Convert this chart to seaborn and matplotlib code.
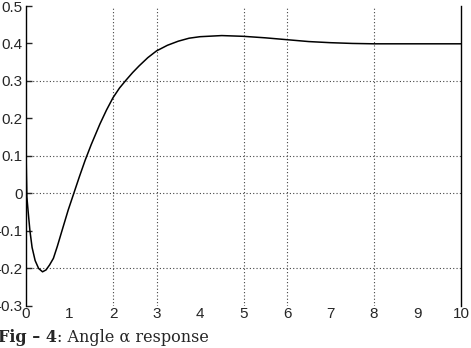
import numpy as np
import pandas as pd
import matplotlib
matplotlib.use("Agg")
import matplotlib.pyplot as plt
import seaborn as sns

# data
time_s = [0, 0.01, 0.02, 0.05, 0.09, 0.14, 0.21, 0.29, 0.38, 0.46, 0.54, 0.63,
          0.72, 0.82, 0.97, 1.1, 1.23, 1.36, 1.5, 1.7, 1.85, 2.0, 2.15, 2.3,
          2.45, 2.6, 2.8, 3.0, 3.25, 3.5, 3.75, 4.0, 4.5, 5.0, 5.5, 6.0, 6.5,
          7.0, 7.5, 8.0, 9.0, 10.0]
alpha = [0.12, 0.05, -0.01, -0.05, -0.10, -0.145, -0.18, -0.201, -0.21, -0.205,
         -0.192, -0.174, -0.142, -0.103, -0.045, 0.0, 0.045, 0.088, 0.13, 0.185,
         0.222, 0.255, 0.281, 0.302, 0.322, 0.34, 0.362, 0.38, 0.395, 0.406,
         0.414, 0.418, 0.421, 0.419, 0.415, 0.41, 0.405, 0.402, 0.40, 0.399,
         0.399, 0.399]
x_ticks = list(range(0, 11))
y_ticks = [-0.3, -0.2, -0.1, 0, 0.1, 0.2, 0.3, 0.4, 0.5]
y_tick_labels = ["-0.3", "-0.2", "-0.1", "0", "0.1", "0.2", "0.3", "0.4", "0.5"]
x_grid = [2, 3, 5, 6, 8]
y_grid = [-0.2, 0, 0.1, 0.3]
caption_bold = "Fig \u2013 4"
caption_rest = ": Angle \u03b1 response"

sns.set_style("white")
plt.rcParams["font.family"] = ["Liberation Sans", "DejaVu Sans"]

df = pd.DataFrame({"t": time_s, "alpha": alpha})

fig = plt.figure(figsize=(4.71, 3.48), dpi=100)
ax = fig.add_axes([26 / 471, 42.5 / 348, 435 / 471, 299.5 / 348])

sns.lineplot(data=df, x="t", y="alpha", ax=ax, color="black", linewidth=1.1)

for gx in x_grid:
    ax.axvline(gx, color="#444444", linestyle=(0, (1, 2)), linewidth=0.8, zorder=0)
for gy in y_grid:
    ax.axhline(gy, color="#444444", linestyle=(0, (1, 2)), linewidth=0.8, zorder=0)

ax.set_xlim(0, 10)
ax.set_ylim(-0.3, 0.5)
ax.set_xticks(x_ticks)
ax.set_xticklabels([str(v) for v in x_ticks])
ax.set_yticks(y_ticks)
ax.set_yticklabels(y_tick_labels)
ax.set_xticks(x_grid, minor=True)
ax.set_yticks(y_grid, minor=True)
ax.set_xlabel("")
ax.set_ylabel("")

ax.tick_params(axis="x", which="major", length=0, pad=1, labelsize=11)
ax.tick_params(axis="x", which="minor", direction="in", length=4, width=1,
               top=True, bottom=True, color="#444444")
ax.tick_params(axis="y", which="major", direction="in", length=4, width=1,
               left=True, right=False, pad=2.5, labelsize=11)
ax.tick_params(axis="y", which="minor", direction="in", length=4, width=1,
               left=False, right=True)

for side in ["top", "bottom"]:
    ax.spines[side].set_visible(False)
for side in ["left", "right"]:
    ax.spines[side].set_visible(True)
    ax.spines[side].set_color("black")
    ax.spines[side].set_linewidth(1.0)

# caption
cap_y = (348 - 337) / 348
t1 = fig.text(-2 / 471, cap_y, caption_bold, fontweight="bold", fontsize=11.5,
              family=["DejaVu Serif"], va="center", ha="left")
fig.canvas.draw()
bb = t1.get_window_extent()
x2 = bb.x1 / fig.bbox.width
fig.text(x2, cap_y, caption_rest, fontsize=11.5,
         family=["DejaVu Serif"], va="center", ha="left")

fig.savefig("out.png", dpi=100)
